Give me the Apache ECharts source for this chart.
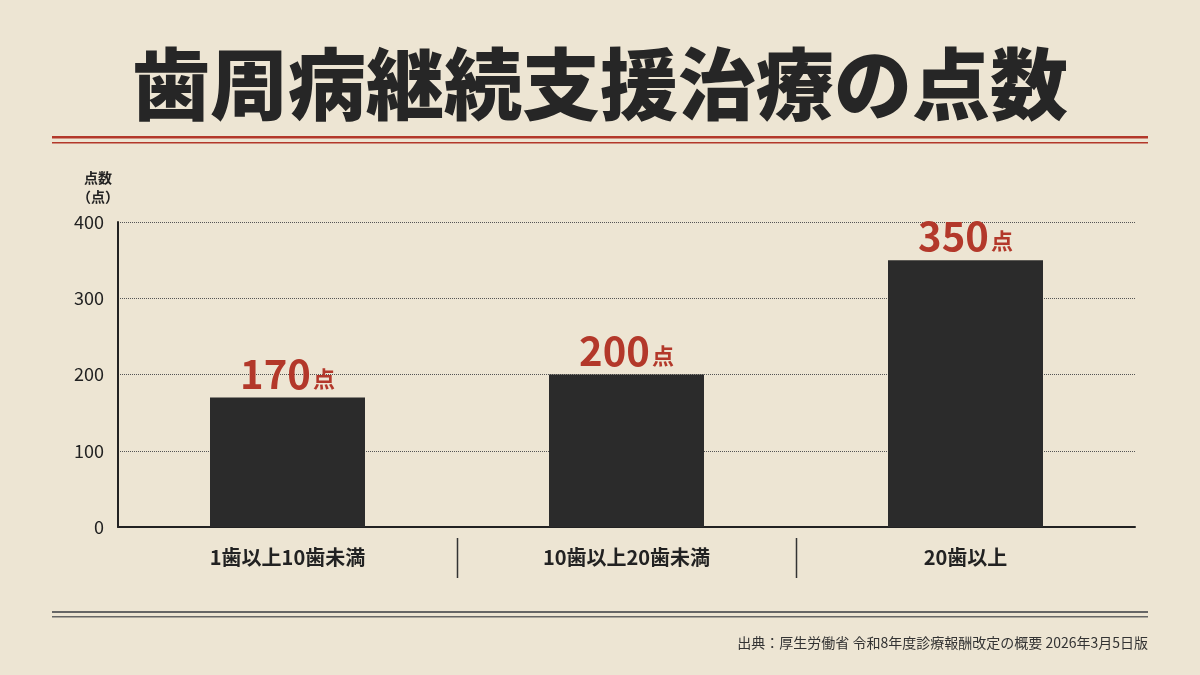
<!DOCTYPE html><html><head><meta charset="utf-8"><script src="https://cdn.jsdelivr.net/npm/echarts@6/dist/echarts.min.js"></script>
<style>body{margin:0;background:#ede5d3}#c{width:1200px;height:675px}</style></head><body><div id="c"></div><script>
const categories=['1歯以上10歯未満','10歯以上20歯未満','20歯以上'];
const values=[170,200,350];
const yTicks=[0,100,200,300,400];
const F='"Noto Sans CJK JP"';
const ch=echarts.init(document.getElementById('c'));
ch.setOption({backgroundColor:'#ede5d3',
title:{text:'歯周病継続支援治療の点数',left:'center',top:40,textStyle:{fontFamily:F,fontWeight:900,fontSize:78,color:'#262626'}},
grid:{left:118,right:65,top:222,bottom:148},
xAxis:{type:'category',data:categories,axisLine:{lineStyle:{color:'#222',width:2}},axisTick:{show:false},
axisLabel:{margin:20,fontFamily:F,fontWeight:'bold',fontSize:20,color:'#222'}},
yAxis:{type:'value',min:0,max:400,interval:100,name:'点数\n（点）',nameLocation:'end',nameGap:16,nameTextStyle:{fontFamily:F,fontWeight:'bold',fontSize:14,color:'#222',align:'center',lineHeight:19,padding:[0,0,0,-40]},
axisLine:{show:true,lineStyle:{color:'#222',width:2}},axisLabel:{fontFamily:F,fontSize:18,color:'#222',margin:14},
splitLine:{lineStyle:{type:'dotted',color:'#555'}}},
series:[{type:'bar',data:values,barWidth:155,itemStyle:{color:'#2b2b2b'},
label:{show:true,position:'top',distance:4,formatter:p=>'{n|'+p.value+'}{u|点}',rich:{n:{fontFamily:F,fontWeight:'bold',fontSize:40,color:'#b3382a'},u:{fontFamily:F,fontWeight:'bold',fontSize:22,color:'#b3382a',padding:[10,0,0,2]}}}}],
graphic:[
{type:'rect',shape:{x:52,y:136,width:1096,height:2.5},style:{fill:'#b3382a'}},
{type:'rect',shape:{x:52,y:142,width:1096,height:1.5},style:{fill:'#b3382a'}},
{type:'rect',shape:{x:52,y:611,width:1096,height:2},style:{fill:'#666'}},
{type:'rect',shape:{x:52,y:616,width:1096,height:1.5},style:{fill:'#666'}},
{type:'text',right:52,top:636,style:{text:'出典：厚生労働省 令和8年度診療報酬改定の概要 2026年3月5日版',font:'14px '+F,fill:'#333'}}
]});
const w=(1200-118-65)/3;
const g=[];for(let i=1;i<3;i++){const x=Math.round(118+w*i)+0.5;g.push({type:'line',shape:{x1:x,y1:538,x2:x,y2:578},style:{stroke:'#333',lineWidth:1.5}});}
const opt=ch.getOption();ch.setOption({graphic:opt.graphic[0].elements.concat(g)});
</script></body></html>
